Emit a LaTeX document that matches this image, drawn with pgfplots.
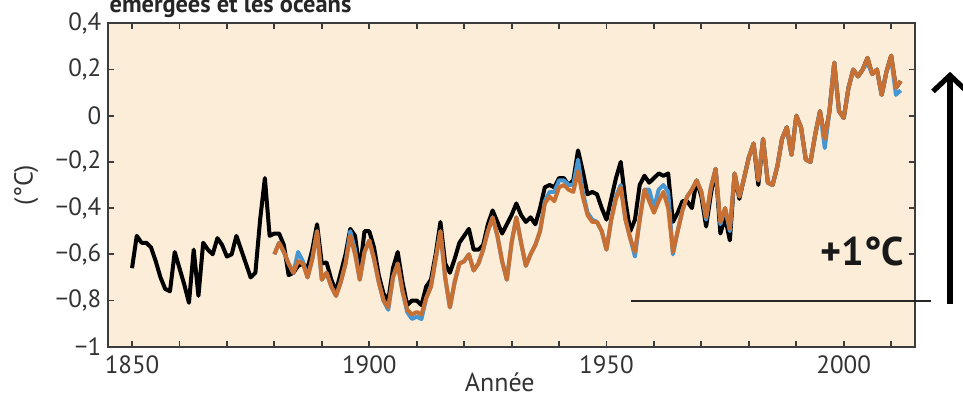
\documentclass[border=0pt]{standalone}
\usepackage{fontspec}
\setmainfont{PT Sans}
\usepackage{pgfplots}
\pgfplotsset{compat=1.18}
\usepackage{pgfplotstable}
\usetikzlibrary{arrows.meta}
\definecolor{bg}{RGB}{251,237,216}
\definecolor{orng}{RGB}{200,112,52}
\definecolor{blu}{RGB}{70,150,210}
\definecolor{frm}{RGB}{60,60,60}

\pgfplotstableread{
year val
1850 -0.66
1851 -0.52
1852 -0.55
1853 -0.55
1854 -0.57
1855 -0.63
1856 -0.70
1857 -0.75
1858 -0.76
1859 -0.59
1860 -0.66
1861 -0.73
1862 -0.81
1863 -0.58
1864 -0.78
1865 -0.55
1866 -0.58
1867 -0.60
1868 -0.53
1869 -0.56
1870 -0.61
1871 -0.60
1872 -0.52
1873 -0.58
1874 -0.64
1875 -0.70
1876 -0.68
1877 -0.45
1878 -0.27
1879 -0.52
1880 -0.51
1881 -0.51
1882 -0.56
1883 -0.69
1884 -0.68
1885 -0.65
1886 -0.64
1887 -0.66
1888 -0.58
1889 -0.47
1890 -0.64
1891 -0.635
1892 -0.71
1893 -0.76
1894 -0.68
1895 -0.60
1896 -0.49
1897 -0.52
1898 -0.67
1899 -0.50
1900 -0.50
1901 -0.57
1902 -0.69
1903 -0.77
1904 -0.80
1905 -0.66
1906 -0.59
1907 -0.72
1908 -0.82
1909 -0.80
1910 -0.80
1911 -0.82
1912 -0.74
1913 -0.71
1914 -0.60
1915 -0.46
1916 -0.64
1917 -0.68
1918 -0.62
1919 -0.55
1920 -0.52
1921 -0.49
1922 -0.58
1923 -0.58
1924 -0.56
1925 -0.47
1926 -0.41
1927 -0.46
1928 -0.51
1929 -0.47
1930 -0.43
1931 -0.38
1932 -0.43
1933 -0.46
1934 -0.44
1935 -0.47
1936 -0.40
1937 -0.31
1938 -0.30
1939 -0.31
1940 -0.27
1941 -0.27
1942 -0.30
1943 -0.28
1944 -0.15
1945 -0.24
1946 -0.34
1947 -0.33
1948 -0.34
1949 -0.40
1950 -0.45
1951 -0.36
1952 -0.27
1953 -0.20
1954 -0.37
1955 -0.50
1956 -0.45
1957 -0.30
1958 -0.26
1959 -0.29
1960 -0.27
1961 -0.25
1962 -0.26
1963 -0.25
1964 -0.46
1965 -0.42
1966 -0.37
1967 -0.37
1968 -0.40
1969 -0.28
1970 -0.35
1971 -0.48
1972 -0.34
1973 -0.23
1974 -0.51
1975 -0.44
1976 -0.54
1977 -0.25
1978 -0.36
1979 -0.27
1980 -0.18
1981 -0.12
1982 -0.30
1983 -0.10
1984 -0.29
1985 -0.30
1986 -0.22
1987 -0.10
1988 -0.05
1989 -0.17
1990 0.00
1991 -0.05
1992 -0.19
1993 -0.20
1994 -0.08
1995 0.02
1996 -0.10
1997 0.02
1998 0.23
1999 0.02
2000 -0.01
2001 0.12
2002 0.20
2003 0.17
2004 0.20
2005 0.25
2006 0.18
2007 0.20
2008 0.09
2009 0.19
2010 0.26
2011 0.12
2012 0.15
}\blacktab

\pgfplotstableread{
year val
1880 -0.60
1881 -0.55
1882 -0.59
1883 -0.64
1884 -0.68
1885 -0.59
1886 -0.63
1887 -0.70
1888 -0.62
1889 -0.50
1890 -0.71
1891 -0.68
1892 -0.74
1893 -0.78
1894 -0.72
1895 -0.64
1896 -0.50
1897 -0.58
1898 -0.71
1899 -0.59
1900 -0.54
1901 -0.62
1902 -0.72
1903 -0.80
1904 -0.84
1905 -0.70
1906 -0.64
1907 -0.76
1908 -0.85
1909 -0.88
1910 -0.87
1911 -0.88
1912 -0.79
1913 -0.74
1914 -0.62
1915 -0.50
1916 -0.70
1917 -0.83
1918 -0.72
1919 -0.64
1920 -0.63
1921 -0.60
1922 -0.67
1923 -0.64
1924 -0.58
1925 -0.50
1926 -0.44
1927 -0.52
1928 -0.63
1929 -0.71
1930 -0.55
1931 -0.44
1932 -0.55
1933 -0.65
1934 -0.60
1935 -0.56
1936 -0.50
1937 -0.37
1938 -0.33
1939 -0.33
1940 -0.28
1941 -0.28
1942 -0.30
1943 -0.30
1944 -0.19
1945 -0.33
1946 -0.42
1947 -0.45
1948 -0.46
1949 -0.50
1950 -0.58
1951 -0.45
1952 -0.35
1953 -0.30
1954 -0.45
1955 -0.53
1956 -0.61
1957 -0.45
1958 -0.32
1959 -0.32
1960 -0.40
1961 -0.32
1962 -0.30
1963 -0.33
1964 -0.60
1965 -0.50
1966 -0.41
1967 -0.35
1968 -0.32
1969 -0.28
1970 -0.33
1971 -0.45
1972 -0.31
1973 -0.23
1974 -0.47
1975 -0.40
1976 -0.50
1977 -0.25
1978 -0.35
1979 -0.27
1980 -0.18
1981 -0.12
1982 -0.28
1983 -0.10
1984 -0.29
1985 -0.30
1986 -0.22
1987 -0.10
1988 -0.05
1989 -0.17
1990 0.00
1991 -0.05
1992 -0.19
1993 -0.20
1994 -0.08
1995 0.02
1996 -0.14
1997 0.02
1998 0.23
1999 0.02
2000 -0.01
2001 0.12
2002 0.20
2003 0.17
2004 0.20
2005 0.23
2006 0.18
2007 0.20
2008 0.09
2009 0.19
2010 0.25
2011 0.09
2012 0.11
}\bluetab

\pgfplotstableread{
year val
1880 -0.60
1881 -0.55
1882 -0.59
1883 -0.64
1884 -0.68
1885 -0.63
1886 -0.64
1887 -0.70
1888 -0.62
1889 -0.50
1890 -0.71
1891 -0.68
1892 -0.74
1893 -0.78
1894 -0.72
1895 -0.64
1896 -0.52
1897 -0.60
1898 -0.71
1899 -0.59
1900 -0.54
1901 -0.62
1902 -0.72
1903 -0.80
1904 -0.83
1905 -0.70
1906 -0.64
1907 -0.76
1908 -0.84
1909 -0.86
1910 -0.85
1911 -0.86
1912 -0.79
1913 -0.74
1914 -0.62
1915 -0.50
1916 -0.70
1917 -0.83
1918 -0.72
1919 -0.64
1920 -0.63
1921 -0.60
1922 -0.67
1923 -0.64
1924 -0.58
1925 -0.50
1926 -0.44
1927 -0.52
1928 -0.63
1929 -0.71
1930 -0.55
1931 -0.44
1932 -0.55
1933 -0.65
1934 -0.60
1935 -0.56
1936 -0.50
1937 -0.38
1938 -0.35
1939 -0.37
1940 -0.31
1941 -0.30
1942 -0.32
1943 -0.33
1944 -0.24
1945 -0.35
1946 -0.43
1947 -0.46
1948 -0.46
1949 -0.50
1950 -0.58
1951 -0.45
1952 -0.36
1953 -0.31
1954 -0.45
1955 -0.53
1956 -0.59
1957 -0.45
1958 -0.32
1959 -0.37
1960 -0.42
1961 -0.37
1962 -0.33
1963 -0.40
1964 -0.59
1965 -0.50
1966 -0.41
1967 -0.35
1968 -0.32
1969 -0.28
1970 -0.33
1971 -0.44
1972 -0.31
1973 -0.23
1974 -0.46
1975 -0.40
1976 -0.49
1977 -0.25
1978 -0.35
1979 -0.27
1980 -0.18
1981 -0.12
1982 -0.28
1983 -0.10
1984 -0.29
1985 -0.30
1986 -0.22
1987 -0.10
1988 -0.05
1989 -0.17
1990 0.00
1991 -0.05
1992 -0.19
1993 -0.20
1994 -0.08
1995 0.02
1996 -0.10
1997 0.02
1998 0.23
1999 0.02
2000 -0.01
2001 0.12
2002 0.20
2003 0.17
2004 0.20
2005 0.25
2006 0.18
2007 0.20
2008 0.09
2009 0.19
2010 0.26
2011 0.12
2012 0.15
}\orangetab

\begin{document}
\begin{tikzpicture}
\begin{axis}[
  name=ax,
  scale only axis,
  width=403.3pt, height=161.7pt,
  xmin=1845, xmax=2015, ymin=-1, ymax=0.4,
  clip=false,
  axis background/.style={fill=bg},
  axis line style={frm, line width=1pt},
  xtick={1850,1900,1950,2000},
  xticklabels={1850,1900,1950,2000},
  minor xtick={1860,1870,1880,1890,1910,1920,1930,1940,1960,1970,1980,1990,2010},
  ytick={-1,-0.8,-0.6,-0.4,-0.2,0,0.2,0.4},
  yticklabels={{−1},{−0,8},{−0,6},{−0,4},{−0,2},{0},{0,2},{0,4}},
  tick align=inside,
  major tick length=3pt, minor tick length=3pt,
  tick style={frm, line width=0.9pt},
  tick label style={font=\fontsize{12.5}{14}\selectfont, text=black!80},
  xticklabel style={yshift=-1pt},
]
\addplot[black, line width=2pt, line join=round] table[x=year,y=val] {\blacktab};
\addplot[blu, line width=2pt, line join=round] table[x=year,y=val] {\bluetab};
\addplot[orng, line width=2pt, line join=round] table[x=year,y=val] {\orangetab};

\draw[black!85, line width=1pt] (axis cs:1955.2,-0.80) -- (axis cs:2018.4,-0.80);
\draw[black, line width=2.6pt, -{Straight Barb[length=8pt,width=17pt]}] (axis cs:2022.4,-0.815) -- (axis cs:2022.4,0.19);
\node[font=\bfseries\fontsize{20}{24}\selectfont, text=black!90] at (axis cs:2003.9,-0.586) {+1°C};
\node[anchor=base west, inner sep=0pt, font=\bfseries\fontsize{12.2}{14}\selectfont, text=black!85] at (axis cs:1845.2,0.445) {émergées et les océans};
\node[rotate=90, font=\fontsize{13}{15}\selectfont, text=black!80] at (axis cs:1827.7,-0.30) {(°C)};
\node[inner sep=0pt, font=\fontsize{13}{15}\selectfont, text=black!80] at (axis cs:1927.5,-1.155) {Année};
\end{axis}
\pgfresetboundingbox
\path[use as bounding box] ([shift={(-54.15pt,-24.65pt)}]ax.south west) rectangle ([shift={(427.35pt,173.35pt)}]ax.south west);
\end{tikzpicture}
\end{document}
